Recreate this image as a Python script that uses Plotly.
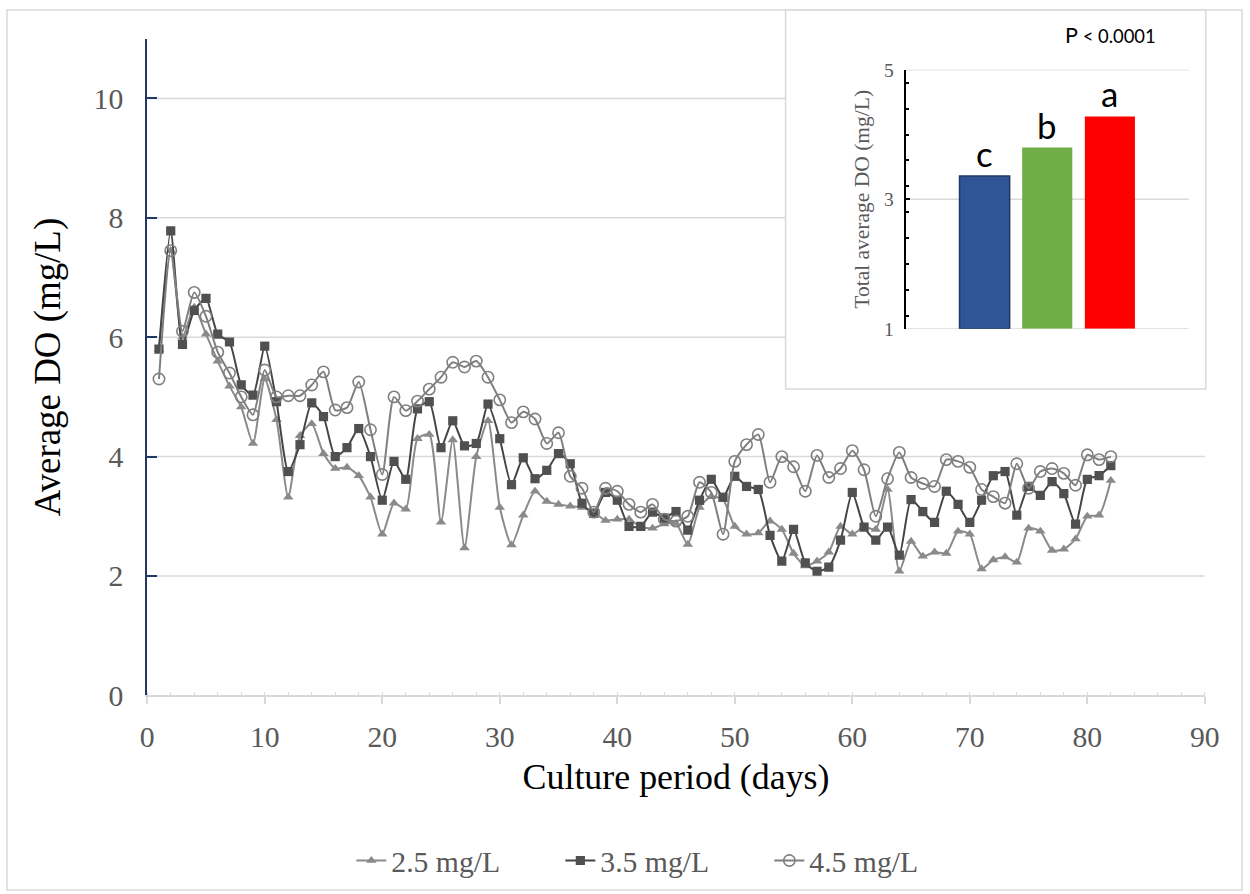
import plotly.graph_objects as go

# Daily dissolved-oxygen readings for the three DO set-points
days = list(range(1, 83))

do_25 = [5.80, 7.45, 6.00, 6.50, 6.05, 5.60, 5.18, 4.83, 4.22, 5.30,
         4.62, 3.32, 4.35, 4.55, 4.05, 3.80, 3.82, 3.68, 3.32, 2.70,
         3.22, 3.12, 4.30, 4.37, 2.90, 4.28, 2.47, 4.00, 4.60, 3.15,
         2.52, 3.02, 3.42, 3.25, 3.20, 3.17, 3.15, 3.07, 2.93, 2.95,
         2.95, 2.82, 2.80, 2.87, 2.88, 2.53, 3.15, 3.33, 3.28, 2.83,
         2.70, 2.72, 2.92, 2.78, 2.38, 2.17, 2.25, 2.40, 2.83, 2.70,
         2.82, 2.78, 3.45, 2.08, 2.58, 2.33, 2.40, 2.38, 2.75, 2.70,
         2.12, 2.27, 2.32, 2.23, 2.80, 2.75, 2.43, 2.45, 2.62, 3.00,
         3.02, 3.60]

do_35 = [5.80, 7.78, 5.88, 6.45, 6.65, 6.05, 5.92, 5.20, 5.03, 5.85,
         4.92, 3.75, 4.20, 4.90, 4.67, 4.00, 4.15, 4.47, 4.00, 3.27,
         3.92, 3.62, 4.80, 4.92, 4.15, 4.60, 4.18, 4.22, 4.88, 4.30,
         3.53, 3.98, 3.63, 3.77, 4.05, 3.88, 3.22, 3.05, 3.40, 3.27,
         2.83, 2.83, 3.07, 2.97, 3.08, 2.77, 3.27, 3.62, 3.32, 3.67,
         3.50, 3.45, 2.68, 2.25, 2.78, 2.22, 2.08, 2.15, 2.60, 3.40,
         2.82, 2.60, 2.82, 2.35, 3.28, 3.08, 2.90, 3.42, 3.20, 2.90,
         3.27, 3.68, 3.75, 3.02, 3.50, 3.35, 3.58, 3.38, 2.87, 3.62,
         3.68, 3.85]

do_45 = [5.30, 7.45, 6.10, 6.75, 6.35, 5.75, 5.40, 5.00, 4.70, 5.45,
         5.00, 5.02, 5.02, 5.20, 5.42, 4.78, 4.82, 5.25, 4.45, 3.70,
         5.00, 4.77, 4.93, 5.13, 5.33, 5.58, 5.50, 5.60, 5.33, 4.95,
         4.57, 4.75, 4.63, 4.22, 4.40, 3.67, 3.47, 3.07, 3.47, 3.42,
         3.20, 3.07, 3.20, 2.95, 2.92, 3.00, 3.57, 3.40, 2.70, 3.92,
         4.20, 4.37, 3.57, 4.00, 3.83, 3.42, 4.02, 3.65, 3.80, 4.10,
         3.78, 3.00, 3.63, 4.07, 3.65, 3.55, 3.50, 3.95, 3.92, 3.82,
         3.45, 3.33, 3.22, 3.88, 3.47, 3.75, 3.80, 3.72, 3.52, 4.03,
         3.95, 4.00]

# Whole-period means (inset)
groups = ["2.5 mg/L", "3.5 mg/L", "4.5 mg/L"]
means = [3.36, 3.80, 4.28]
mean_letters = ["c", "b", "a"]
bar_colors = ["#2f5597", "#70ad47", "#ff0000"]

x_ticks = list(range(0, 91, 10))
y_ticks = list(range(0, 11, 2))
inset_ticks = [1, 3, 5]

# Layout positions below are written in final-image pixels (1250 x 894)
# and mapped onto the page, which has the default 8 px body margin.
IMG_W, IMG_H = 1250, 894
VIEW_W, VIEW_H = 1273, 922
SX, SY = VIEW_W / IMG_W, VIEW_H / IMG_H
BODY_MARGIN = 8
W, H = VIEW_W - 2 * BODY_MARGIN, VIEW_H - 2 * BODY_MARGIN
K = (SX + SY) / 2          # size factor for fonts / markers

SERIF = "Liberation Serif, Times New Roman, serif"
SANS = "Lato, Open Sans, sans-serif"
GRID = "#d9d9d9"


def px(x):
    return min(max((x * SX - BODY_MARGIN) / W, 0), 1)


def py(y):
    return min(max(1 - (y * SY - BODY_MARGIN) / H, 0), 1)


def fs(v):
    return round(v * K, 1)


fig = go.Figure()

series = [
    (do_25, "2.5 mg/L", "#8a8a8a", dict(symbol="triangle-up", size=fs(9), color="#8a8a8a")),
    (do_35, "3.5 mg/L", "#454545", dict(symbol="square", size=fs(9), color="#505050")),
    (do_45, "4.5 mg/L", "#7f7f7f", dict(symbol="circle-open", size=fs(11), color="#7f7f7f",
                                        line=dict(width=1.6, color="#7f7f7f"))),
]
for vals, name, lc, mk in series:
    fig.add_trace(go.Scatter(
        x=days, y=vals, name=name, mode="lines+markers",
        line=dict(color=lc, width=2, shape="spline", smoothing=0.6),
        marker=mk, xaxis="x", yaxis="y",
    ))

# Inset bar chart of overall means
fig.add_trace(go.Bar(
    x=[0, 1, 2], y=[m - 1 for m in means], base=1, width=0.8,
    marker=dict(color=bar_colors,
                line=dict(color=["#1f3864", bar_colors[1], bar_colors[2]], width=[1.5, 0, 0])),
    xaxis="x2", yaxis="y2", showlegend=False, hoverinfo="skip",
))

x_dom = [px(148), px(1205)]
y_dom = [py(692), py(692 - 11 * 59.6)]

fig.update_layout(
    width=W, height=H,
    margin=dict(l=0, r=0, t=0, b=0),
    paper_bgcolor="white",
    plot_bgcolor="rgba(0,0,0,0)",
    xaxis=dict(
        domain=x_dom, range=[0, 90], tickvals=x_ticks,
        showgrid=False, zeroline=False,
        showline=True, linecolor=GRID, linewidth=1.5,
        ticks="outside", ticklen=7, tickcolor=GRID, tickwidth=1.5,
        minor=dict(dtick=2, ticks="inside", ticklen=4, tickcolor=GRID, tickwidth=1.2, showgrid=False),
        ticklabelstandoff=7,
        tickfont=dict(family=SERIF, size=fs(29), color="#595959"),
        title=dict(text="Culture period (days)", font=dict(family=SERIF, size=fs(35), color="#000000"), standoff=12),
    ),
    yaxis=dict(
        domain=y_dom, range=[0, 11], tickvals=y_ticks,
        showgrid=False, zeroline=False,
        showline=True, linecolor="#1f3864", linewidth=2,
        ticks="inside", ticklen=10, tickcolor="#1f3864", tickwidth=2,
        ticklabelstandoff=16,
        tickfont=dict(family=SERIF, size=fs(29), color="#595959"),
        title=dict(text="Average DO (mg/L)", font=dict(family=SERIF, size=fs(36), color="#000000"), standoff=22),
    ),
    xaxis2=dict(
        domain=[px(906), px(1189)], range=[-1.26, 3.26], anchor="y2",
        showticklabels=False, showgrid=False, zeroline=False, ticks="",
    ),
    yaxis2=dict(
        domain=[py(326), py(67.5)], range=[1, 5], anchor="x2",
        tickvals=inset_ticks, showgrid=False,
        zeroline=False, showline=True, linecolor="#000000", linewidth=2,
        ticks="inside", ticklen=4, tickcolor="#000000", tickwidth=2,
        minor=dict(dtick=0.4, ticks="inside", ticklen=3, tickcolor="#000000", tickwidth=1.5, showgrid=False),
        ticklabelstandoff=6,
        tickfont=dict(family=SERIF, size=fs(19), color="#595959"),
        title=dict(text="Total average DO (mg/L)", font=dict(family=SERIF, size=fs(21), color="#595959"), standoff=8),
    ),
    legend=dict(
        orientation="h", x=px(352), xanchor="left", y=py(857), yanchor="middle",
        font=dict(family=SERIF, size=fs(29), color="#595959"),
        itemwidth=30, tracegroupgap=0, entrywidth=164,
    ),
    showlegend=True,
)

shapes = []
# outer frame
shapes.append(dict(type="rect", xref="paper", yref="paper", x0=px(7), x1=px(1248), y0=py(891), y1=py(4),
                   line=dict(color=GRID, width=1.5), fillcolor="rgba(0,0,0,0)", layer="below"))
# main horizontal gridlines (upper ones stop at the inset box)
for v in y_ticks[1:]:
    x_end = px(1205) if v <= 4 else px(786)
    shapes.append(dict(type="line", xref="paper", yref="y", x0=px(148), x1=x_end, y0=v, y1=v,
                       line=dict(color=GRID, width=1.5), layer="below"))
# inset panel
shapes.append(dict(type="rect", xref="paper", yref="paper", x0=px(786), x1=px(1206), y0=py(386), y1=py(4),
                   line=dict(color=GRID, width=1.5), fillcolor="white", layer="below"))
# inset gridlines
for v in inset_ticks:
    shapes.append(dict(type="line", xref="x2 domain", yref="y2", x0=0, x1=1, y0=v, y1=v,
                       line=dict(color=GRID, width=1.5), layer="below"))
fig.update_layout(shapes=shapes)

annotations = []
for i, (m, lab) in enumerate(zip(means, mean_letters)):
    annotations.append(dict(x=i, y=m, xref="x2", yref="y2", text=lab, showarrow=False,
                            xanchor="center", yanchor="bottom", yshift=0,
                            font=dict(family=SANS, size=fs(34), color="#000000")))
annotations.append(dict(x=px(1111), y=py(33), xref="paper", yref="paper", showarrow=False,
                        xanchor="center", yanchor="middle",
                        text=f"<span style='font-size:{fs(21)}px'>P</span> &lt; 0.0001",
                        font=dict(family=SANS, size=fs(18), color="#000000")))
fig.update_layout(annotations=annotations)

fig.write_html("out.html")
